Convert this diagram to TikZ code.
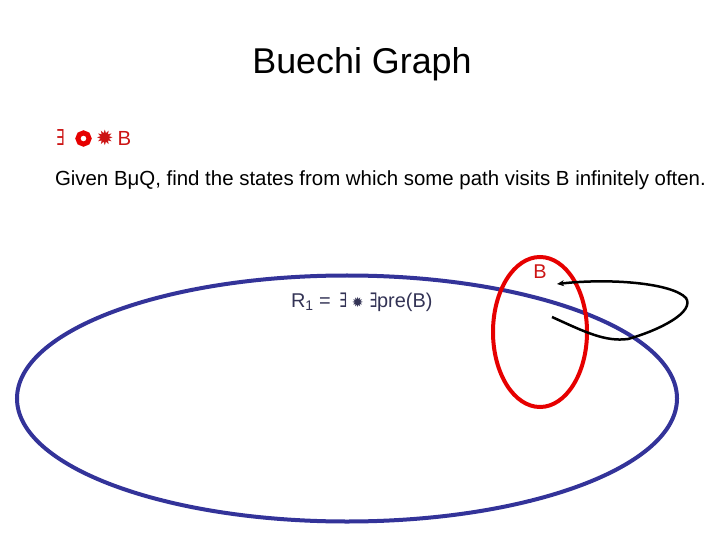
\documentclass[tikz,border=0pt]{standalone}
\usepackage{graphicx}
\usepackage{fontspec}
\setmainfont{Liberation Sans}
\newfontfamily\symfont{DejaVu Sans}
\usetikzlibrary{shapes.geometric,arrows.meta}
\definecolor{navyline}{RGB}{51,51,153}
\definecolor{setred}{RGB}{230,0,0}
\definecolor{textred}{RGB}{204,20,20}
\definecolor{slate}{RGB}{51,51,85}
\newcommand{\thinexists}{\scalebox{0.6}[1]{\symfont ∃}}

\begin{document}
\begin{tikzpicture}
  [x=1bp, y=-1bp,
   every node/.style={inner sep=0pt, outer sep=0pt},
   region/.style={draw, ellipse, line width=4bp},
   heading/.style={font=\fontsize{36}{42}\selectfont, anchor=base},
   body/.style={font=\fontsize{20.5}{24}\selectfont, anchor=base west}]
  \useasboundingbox (0,0) rectangle (720,540);
  \node[heading] (title) at (362,74) {Buechi Graph};
  \node[body, textred, font=\fontsize{22}{26}\selectfont] (exists) at (56,146) {\thinexists};
  \draw[setred, line width=5bp] (83.5,138.5) coordinate (ring) circle (5.6bp);
  \node[body, textred] (always) at (96,146)
     {{\symfont\fontsize{21}{24}\selectfont ✹}\hspace{4bp}B};
  \node[body] (given) at (55,186)
     {Given BμQ, find the states from which some path visits B infinitely often.};
  \node[region, navyline, minimum width=660bp, minimum height=246bp] (reach) at (347,398.5) {};
  \node[region, setred, minimum width=94bp, minimum height=150bp] (bset) at (540,332) {};
  \node[body, anchor=base, textred, font=\fontsize{20}{24}\selectfont] (blabel) at (540,279) {B};
  \node[body, slate, font=\fontsize{20}{24}\selectfont] (rone) at (291,307)
     {R\textsubscript{1} = \hspace{3bp}\thinexists\hspace{5bp}{\symfont\fontsize{14}{16}\selectfont ✹}\hspace{6bp}\thinexists pre(B)};
  \coordinate (loopstart) at (552,317);
  \coordinate (loopend) at (557,284);
  \draw[line width=2.5bp, -{Stealth[length=7bp,width=6bp]}] (loopstart)
     .. controls (585,332) and (605,342) .. (628,339)
     .. controls (660,330) and (695,312) .. (686,298)
     .. controls (672,283) and (610,278) .. (loopend);
\end{tikzpicture}
\end{document}
